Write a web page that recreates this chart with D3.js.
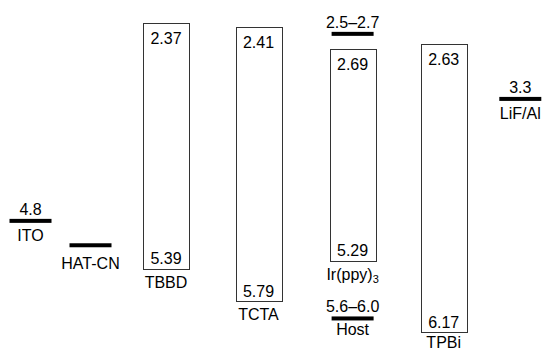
<!DOCTYPE html>
<html>
<head>
<meta charset="utf-8">
<script src="https://cdn.jsdelivr.net/npm/d3@7"></script>
<style>
  html, body { margin: 0; padding: 0; background: #fff; }
  svg { display: block; }
  text { font-family: "Liberation Sans", Arial, Helvetica, sans-serif; fill: #000; }
</style>
</head>
<body>
<div id="chart"></div>
<script>
// ---------- data ----------
const columns = ["ITO", "HAT-CN", "TBBD", "TCTA", "Ir(ppy)3", "TPBi", "LiF/Al"];

// organic layers drawn as boxes (LUMO top, HOMO bottom, eV)
const boxNames = ["TBBD", "TCTA", "Ir(ppy)3", "TPBi"];
const boxLumo = [2.37, 2.41, 2.69, 2.63];
const boxHomo = [5.39, 5.79, 5.29, 6.17];

// single-level layers drawn as lines (work function / level, eV)
const lineNames = ["ITO", "HAT-CN", "LiF/Al"];
const lineValues = [4.8, 5.1, 3.3];
const lineValueLabels = ["4.8", "", "3.3"];

// host levels drawn in the Ir(ppy)3 column
const hostValues = [2.5, 6.0];
const hostValueLabels = ["2.5\u20132.7", "5.6\u20136.0"];
const hostNameLabels = ["", "Host"];

// ---------- layout ----------
const W = 542, H = 351;
const svg = d3.select("#chart").append("svg").attr("width", W).attr("height", H);

const y = d3.scaleLinear().domain([2, 6.5]).range([-6.8, 359.1]);
const x = d3.scaleOrdinal().domain(columns)
  .range([30.5, 90.5, 166, 258.5, 352.6, 443.7, 520.3]);

const boxW = 46, lineW = 42, lineT = 4, fs = 16;

// boxes
const boxes = boxNames.map((n, i) => ({ name: n, lumo: boxLumo[i], homo: boxHomo[i] }));
const bg = svg.append("g").selectAll("g").data(boxes).join("g");
bg.append("rect")
  .attr("x", d => Math.round(x(d.name) - boxW / 2) + 0.5)
  .attr("y", d => Math.round(y(d.lumo)) + 0.5)
  .attr("width", boxW)
  .attr("height", d => Math.round(y(d.homo)) - Math.round(y(d.lumo)))
  .attr("fill", "none").attr("stroke", "#333").attr("stroke-width", 1);
bg.append("text")
  .attr("x", d => x(d.name)).attr("y", d => y(d.lumo) + 21)
  .attr("text-anchor", "middle").attr("font-size", fs)
  .text(d => d.lumo.toFixed(2));
bg.append("text")
  .attr("x", d => x(d.name)).attr("y", d => y(d.homo) - 4.5)
  .attr("text-anchor", "middle").attr("font-size", fs)
  .text(d => d.homo.toFixed(2));
const nameT = bg.append("text")
  .attr("x", d => x(d.name)).attr("y", d => Math.min(y(d.homo) + 19, H - 3))
  .attr("text-anchor", "middle").attr("font-size", fs);
nameT.each(function (d) {
  const t = d3.select(this);
  const m = d.name.match(/^(.*?)(\d+)$/);
  if (m && d.name.includes("(")) {
    t.append("tspan").text(m[1]);
    t.append("tspan").attr("font-size", 11).attr("dy", 3).text(m[2]);
  } else {
    t.text(d.name);
  }
});

// single lines
const lines = lineNames.map((n, i) => ({ col: n, name: n, v: lineValues[i], label: lineValueLabels[i], off: n === "HAT-CN" ? 24 : 20 }));
const hosts = hostValues.map((v, i) => ({ col: "Ir(ppy)3", name: hostNameLabels[i], v: v, label: hostValueLabels[i], off: 17 }));
const allLines = lines.concat(hosts);

const lg = svg.append("g").selectAll("g").data(allLines).join("g");
lg.append("rect")
  .attr("x", d => x(d.col) - lineW / 2)
  .attr("y", d => y(d.v) - lineT / 2)
  .attr("width", lineW).attr("height", lineT)
  .attr("fill", "#000");
lg.append("text")
  .attr("x", d => x(d.col)).attr("y", d => y(d.v) - 6)
  .attr("text-anchor", "middle").attr("font-size", fs)
  .text(d => d.label);
lg.append("text")
  .attr("x", d => x(d.col)).attr("y", d => y(d.v) + d.off)
  .attr("text-anchor", "middle").attr("font-size", fs)
  .text(d => d.name);
</script>
</body>
</html>
